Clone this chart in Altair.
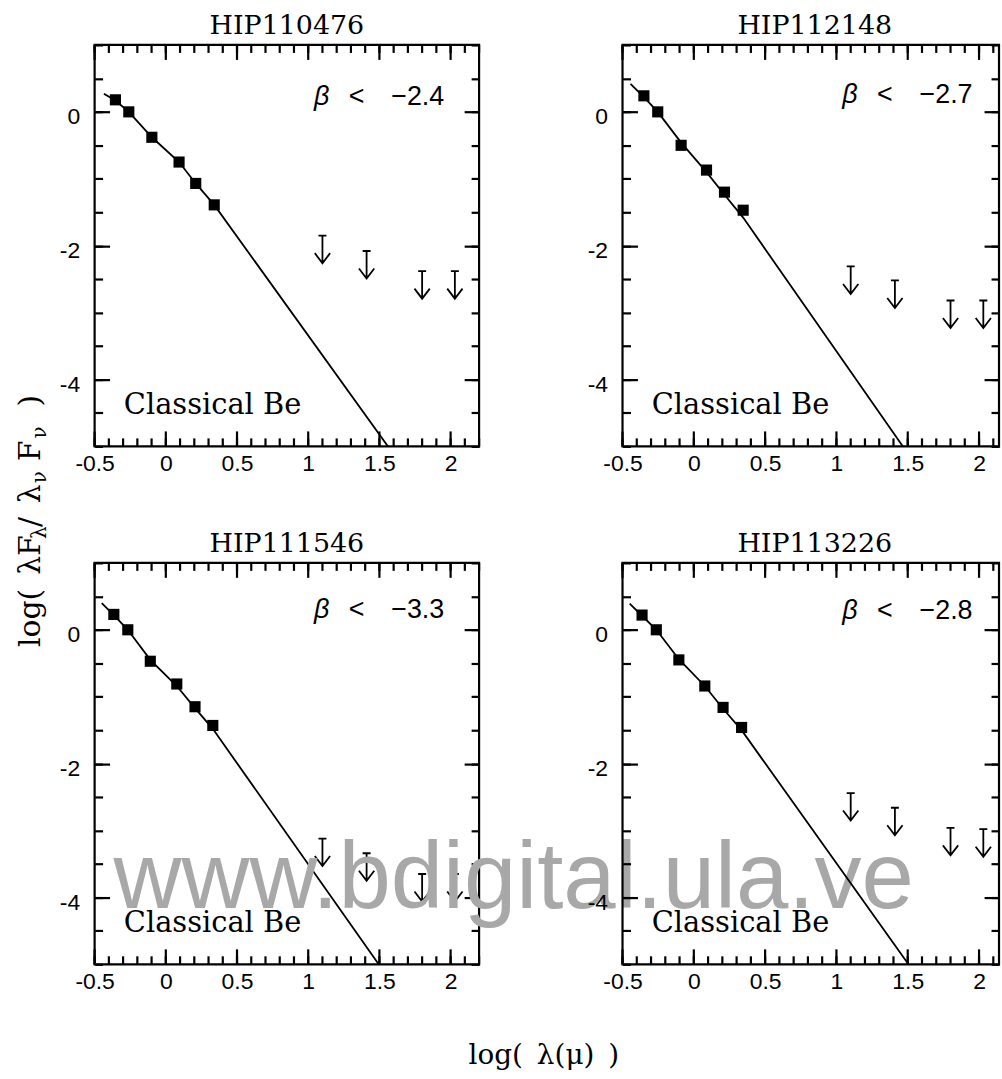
import altair as alt
import pandas as pd

# ---------------- data ----------------
names = ["HIP110476", "HIP112148", "HIP111546", "HIP113226"]
beta_vals = ["−2.4", "−2.7", "−3.3", "−2.8"]
beta_y = [0.11, 0.13, 0.18, 0.16]

# photometric points: log(lambda[micron]) , log(lamF_lam / lamV F_V)
pts_x = [
    [-0.354, -0.260, -0.098, 0.093, 0.210, 0.340],
    [-0.350, -0.253, -0.089, 0.089, 0.215, 0.346],
    [-0.365, -0.267, -0.109, 0.077, 0.205, 0.330],
    [-0.363, -0.263, -0.105, 0.077, 0.205, 0.335],
]
pts_y = [
    [0.18, 0.00, -0.38, -0.75, -1.07, -1.39],
    [0.24, 0.00, -0.50, -0.87, -1.20, -1.47],
    [0.23, 0.00, -0.47, -0.81, -1.15, -1.43],
    [0.22, 0.00, -0.45, -0.84, -1.16, -1.46],
]

# model curve
line_x = [
    [-0.435, -0.354, -0.260, -0.098, 0.093, 0.210, 0.340, 1.570],
    [-0.444, -0.350, -0.253, -0.089, 0.089, 0.215, 0.346, 1.465],
    [-0.450, -0.365, -0.267, -0.109, 0.077, 0.205, 0.330, 1.495],
    [-0.450, -0.363, -0.263, -0.105, 0.077, 0.205, 0.335, 1.505],
]
line_y = [
    [0.27, 0.17, 0.00, -0.38, -0.75, -1.07, -1.39, -5.03],
    [0.42, 0.22, 0.00, -0.46, -0.90, -1.24, -1.58, -5.00],
    [0.40, 0.22, 0.00, -0.45, -0.84, -1.17, -1.48, -5.00],
    [0.39, 0.21, 0.00, -0.44, -0.84, -1.18, -1.50, -5.00],
]

# IRAS upper limits (top of the arrow)
lim_x = [1.10, 1.41, 1.80, 2.03]
lim_top = [
    [-1.85, -2.08, -2.38, -2.38],
    [-2.31, -2.52, -2.82, -2.82],
    [-3.12, -3.34, -3.65, -3.65],
    [-2.44, -2.66, -2.96, -2.98],
]

x_major = [-0.5, 0, 0.5, 1, 1.5, 2]
x_minor = [-0.5, -0.4, -0.3, -0.2, -0.1, 0, 0.1, 0.2, 0.3, 0.4, 0.5, 0.6, 0.7,
           0.8, 0.9, 1.0, 1.1, 1.2, 1.3, 1.4, 1.5, 1.6, 1.7, 1.8, 1.9, 2.0,
           2.1, 2.2]
y_major = [-4, -2, 0]
y_minor = [-5, -4.5, -4, -3.5, -3, -2.5, -2, -1.5, -1, -0.5, 0, 0.5, 1]

# ---------------- styling ----------------
SERIF = "DejaVu Serif"
SANS = "Liberation Sans"
ARROW = "M-0.5,0L0.5,0M0,0L0,3.46M-0.96,2.2L0,3.46L0.96,2.2"
TICK = "M0,-1L0,1"
H = 403
MAJ, MIN = 15, 8
TW = 2.2
# left column shows the full range, the right column is cut at the page edge
X_MAX = [2.2, 2.14, 2.2, 2.14]
WIDTH = [386, 378, 386, 378]

ys = alt.Scale(domain=[-5, 1], nice=False, zero=False)

LABEL_EXPR = "replace(format(datum.value, ''), '−', '-')"


def ax(orient, values, size, labels=False, ticks=True):
    kw = dict(orient=orient, values=values, tickSize=size, offset=-size,
              domain=False, grid=False, labels=labels, ticks=ticks,
              tickColor="black", tickWidth=TW)
    if labels:
        kw.update(labelFont=SANS, labelFontSize=23, labelColor="black",
                  labelExpr=LABEL_EXPR, labelFlush=False, labelOverlap=False)
        if orient == "bottom":
            kw.update(labelPadding=21)
        else:
            kw.update(labelPadding=15, labelOffset=5)
    return alt.Axis(**kw)


def txt(text, px, py, size, font=SERIF, align="left", angle=0, color="black",
        style="normal"):
    return alt.Chart(alt.Data(values=[{}])).mark_text(
        text=text, font=font, fontSize=size, align=align, baseline="alphabetic",
        angle=angle, color=color, fontStyle=style
    ).encode(x=alt.value(px), y=alt.value(py))


def xticks(values, xs, ypix, length):
    # inward vertical ticks on the top / bottom frame
    return alt.Chart(pd.DataFrame({"v": values})).mark_point(
        shape=TICK, size=length * length, filled=False, color="black",
        strokeWidth=TW, opacity=1
    ).encode(x=alt.X("v:Q", scale=xs, axis=None), y=alt.value(ypix))


def panel(i, extras=()):
    xmax, W = X_MAX[i], WIDTH[i]
    xs = alt.Scale(domain=[-0.5, xmax], nice=False, zero=False)
    xmaj = [v for v in x_major if v <= xmax]
    xmin = [v for v in x_minor if v <= xmax]

    df_line = pd.DataFrame({"x": line_x[i], "y": line_y[i]})
    df_pts = pd.DataFrame({"x": pts_x[i], "y": pts_y[i]})
    df_lim = pd.DataFrame({"x": lim_x, "y": lim_top[i]})
    df_cls = pd.DataFrame({"x": [-0.295], "y": [-4.52], "t": ["Classical Be"]})
    df_b1 = pd.DataFrame({"x": [1.04], "y": [beta_y[i]], "t": ["β"]})
    df_b2 = pd.DataFrame({"x": [1.284], "y": [beta_y[i]],
                          "t": ["<\u2003" + beta_vals[i]]})

    line = alt.Chart(df_line).mark_line(color="black", strokeWidth=1.8, clip=True).encode(
        x=alt.X("x:Q", scale=xs, title=None, axis=ax("bottom", xmaj, MAJ, True, False)),
        y=alt.Y("y:Q", scale=ys, title=None, axis=ax("left", y_major, MAJ, True)),
        order="x:Q",
    )
    pts = alt.Chart(df_pts).mark_square(size=125, filled=True, color="black", opacity=1).encode(
        x=alt.X("x:Q", scale=xs, title=None, axis=None),
        y=alt.Y("y:Q", scale=ys, title=None, axis=ax("left", y_minor, MIN)),
    )
    arrows = alt.Chart(df_lim).mark_point(shape=ARROW, size=256, filled=False,
                                          color="black", strokeWidth=1.8, opacity=1).encode(
        x=alt.X("x:Q", scale=xs, title=None, axis=None),
        y=alt.Y("y:Q", scale=ys, title=None, axis=ax("right", y_major, MAJ)),
    )
    cls = alt.Chart(df_cls).mark_text(font=SERIF, fontSize=29, align="left",
                                      baseline="alphabetic", color="black").encode(
        x=alt.X("x:Q", scale=xs, title=None, axis=None),
        y=alt.Y("y:Q", scale=ys, title=None, axis=ax("right", y_minor, MIN)),
        text="t:N",
    )
    b1 = alt.Chart(df_b1).mark_text(font=SANS, fontSize=27, fontStyle="italic",
                                    align="left", baseline="alphabetic", color="black").encode(
        x=alt.X("x:Q", scale=xs, axis=None), y=alt.Y("y:Q", scale=ys, axis=None), text="t:N")
    b2 = alt.Chart(df_b2).mark_text(font=SANS, fontSize=27, align="left",
                                    baseline="alphabetic", color="black").encode(
        x=alt.X("x:Q", scale=xs, axis=None), y=alt.Y("y:Q", scale=ys, axis=None), text="t:N")
    # title centred over the full (uncut) panel width
    title = txt(names[i], 193, -11, 27, align="center")

    ticks = [
        xticks(xmaj, xs, H - MAJ / 2, MAJ),
        xticks(xmin, xs, H - MIN / 2, MIN),
        xticks(xmaj, xs, MAJ / 2, MAJ),
        xticks(xmin, xs, MIN / 2, MIN),
    ]

    return alt.layer(line, pts, arrows, cls, b1, b2, title, *ticks, *extras).resolve_axis(
        x="independent", y="independent"
    ).properties(width=W, height=H)


# y-axis title pieces (pixel positions relative to the upper-left panel)
ytitle = [
    txt("log(", -55, 546, 30, align="right", angle=270),
    txt("λF", -55, 532, 30, angle=270),
    txt("λ", -49, 496, 20, angle=270),
    txt("/", -55, 484, 30, angle=270),
    txt("λ", -55, 460, 30, angle=270),
    txt("ν", -49, 440, 20, angle=270),
    txt("F", -55, 418, 30, angle=270),
    txt("ν", -49, 395, 20, angle=270),
    txt(")", -55, 363, 30, angle=270),
]
bottom_extras = [
    txt("www.bdigital.ula.ve", 19, 346, 94.5, font=SANS, color="#a8a8a8"),
    txt("log(\u2002λ(μ)\u2002)", 451, 503, 28, align="center"),
]

p0 = panel(0, ytitle)
p1 = panel(1)
p2 = panel(2, bottom_extras)
p3 = panel(3)

chart = alt.concat(
    p0, p1, p2, p3, columns=2, spacing={"row": 117, "column": 144}, bounds="flush"
).properties(
    padding={"left": 14, "top": 8, "right": 0, "bottom": 0},
    background="white",
).configure_view(stroke="black", strokeWidth=2.2)

chart.save("out.html", embed_options={"renderer": "svg", "actions": False})
